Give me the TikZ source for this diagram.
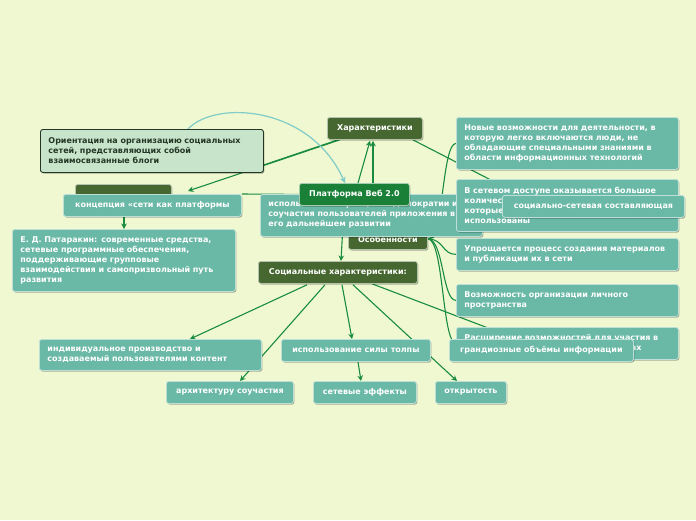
\documentclass[tikz,border=0pt]{standalone}
\usepackage{fontspec}
\setmainfont{DejaVu Sans}
\usetikzlibrary{arrows.meta, positioning, shadows, calc}
\definecolor{mmbg}{RGB}{239,248,208}
\definecolor{mmdark}{RGB}{70,104,48}
\definecolor{mmroot}{RGB}{26,128,56}
\definecolor{mmteal}{RGB}{106,184,166}
\definecolor{mmmint}{RGB}{200,229,204}
\definecolor{mmink}{RGB}{36,54,36}
\definecolor{mmline}{RGB}{26,140,64}
\definecolor{mmrel}{RGB}{128,204,200}
\pgfdeclarelayer{back}
\pgfdeclarelayer{edges}
\pgfsetlayers{back,edges,main}

\begin{document}
\begin{tikzpicture}[x=1pt, y=-1pt,
    base/.style={rounded corners=2.5pt, anchor=north west, inner xsep=8pt, inner ysep=3pt,
      font=\bfseries\fontsize{8}{10}\selectfont,
      drop shadow={shadow xshift=1pt, shadow yshift=-1.2pt, opacity=0.3, fill=black}},
    topic/.style={base, fill=mmteal, draw=mmteal!45!white, line width=0.8pt, text=white, align=left},
    head/.style={base, fill=mmdark, draw=mmdark!40!white, line width=0.8pt, text=white, align=center},
    note/.style={base, fill=mmmint, draw=mmink, line width=0.9pt, text=mmink, align=left},
    edge/.style={draw=mmline, line width=1.1pt},
    arr/.style={edge, -{Stealth[length=5.5pt, width=5.5pt]}},
    rel/.style={draw=mmrel, line width=1.2pt, -{Stealth[length=6pt, width=6pt]}}
  ]
    \begin{pgfonlayer}{back}
      \fill[mmbg] (0,0) rectangle (696,520);
    \end{pgfonlayer}
    \useasboundingbox (0,0) rectangle (696,520);

    % left branch
    \node[note, text width=207pt, minimum height=43pt] (ornt) at (40,129)
      {Ориентация на организацию социальных\\сетей, представляющих собой\\взаимосвязанные блоги};
    \node[head, minimum width=96pt, minimum height=16pt] (princ) at (75,184) {};
    \node[topic, align=center, minimum width=178pt, minimum height=22pt] (konc) at (63,194)
      {концепция «сети как платформы};
    \node[topic, text width=207pt, minimum height=62pt] (patar) at (12,229)
      {Е. Д. Патаракин: современные средства,\\сетевые программные обеспечения,\\поддерживающие групповые\\взаимодействия и самопризвольный путь\\развития};

    % centre
    \node[head, minimum width=79pt, minimum height=21pt] (osob) at (348,228) {Особенности};
    \node[topic, text width=206pt, minimum height=42pt] (demo) at (260,194)
      {использование принципов демократии и\\соучастия пользователей приложения в\\его дальнейшем развитии};
    \node[head, fill=mmroot, draw=mmroot!40!white, minimum width=110pt, minimum height=22pt] (root) at (299,183)
      {Платформа Веб 2.0};
    \node[head, minimum width=95pt, minimum height=22pt] (har) at (327,117) {Характеристики};
    \node[head, minimum width=159pt, minimum height=22pt] (soc) at (258,261) {Социальные характеристики:};

    % right column
    \node[topic, text width=206pt, minimum height=52pt] (r1) at (456,117)
      {Новые возможности для деятельности, в\\которую легко включаются люди, не\\обладающие специальными знаниями в\\области информационных технологий};
    \node[topic, text width=206pt, minimum height=52pt] (r2) at (456,179)
      {В сетевом доступе оказывается большое\\количество материалов,\\которые могут быть повторно\\использованы};
    \node[topic, align=center, minimum width=182pt, minimum height=22pt] (sns) at (502,195)
      {социально-сетевая составляющая};
    \node[topic, text width=206pt, minimum height=32pt] (r3) at (456,238)
      {Упрощается процесс создания материалов\\и публикации их в сети};
    \node[topic, text width=206pt, minimum height=32pt] (r4) at (456,284)
      {Возможность организации личного\\пространства};
    \node[topic, text width=206pt, minimum height=32pt] (r5) at (456,327)
      {Расширение возможностей для участия в\\различных виртуальных сообществах};
    \node[topic, align=center, minimum width=184pt, minimum height=22pt] (grand) at (449,339)
      {грандиозные объёмы информации};

    % bottom
    \node[topic, text width=206pt, minimum height=31pt] (indiv) at (39,339)
      {индивидуальное производство и\\создаваемый пользователями контент};
    \node[topic, align=center, minimum width=149pt, minimum height=22pt] (tolpa) at (281,339)
      {использование силы толпы};
    \node[topic, align=center, minimum width=127pt, minimum height=22pt] (arch) at (166,381)
      {архитектуру соучастия};
    \node[topic, align=center, minimum width=103pt, minimum height=22pt] (seti) at (313,381)
      {сетевые эффекты};
    \node[topic, align=center, minimum width=71pt, minimum height=22pt] (open) at (435,381)
      {открытость};

    \coordinate (princtip) at (188,191);

    \begin{pgfonlayer}{edges}
      \draw[edge] ($(har.south west)+(11,0)$) -- ($(ornt.south east)+(0,-8)$);
      \draw[arr] ($(har.south west)+(13,0)$) -- (princtip);
      \draw[arr] ($(root.north west)+(59,0)$) -- ($(har.south west)+(43,1)$);
      \draw[arr] ($(osob.north west)+(25,0)$) -- ($(har.south west)+(46,1)$);
      \draw[edge] ($(har.south east)+(-10,0)$) -- ($(sns.north west)+(18,0)$);
      \draw[edge] (root.west) -- (konc.north east);
      \draw[arr] ($(root.south west)+(45,0)$) -- ($(soc.north west)+(83,0)$);
      \draw[arr] ($(konc.south west)+(61,0)$) -- ($(patar.north west)+(112,0)$);
      \foreach \r in {r1,r2,r3,r4,r5}
        \draw[edge] (osob.east) .. controls +(16,0) and +(-14,0) .. (\r.west);
      \draw[edge] ($(soc.south west)+(114,0)$) -- ($(grand.north west)+(68,0)$);
      \draw[arr] ($(soc.south west)+(49,1)$) -- ($(indiv.north west)+(151,0)$);
      \draw[arr] ($(soc.south west)+(67,1)$) -- ($(arch.north west)+(74,0)$);
      \draw[arr] ($(soc.south west)+(84,1)$) -- ($(tolpa.north west)+(71,0)$);
      \draw[arr] ($(soc.south west)+(95,1)$) -- ($(open.north west)+(22,0)$);
      \draw[arr] ($(tolpa.south west)+(77,0)$) -- ($(seti.north west)+(48,0)$);
      \draw[rel] ($(ornt.north west)+(148,0)$) .. controls (215,100) and (310,105) .. ($(root.north west)+(46,0)$);
    \end{pgfonlayer}
  \end{tikzpicture}
\end{document}
